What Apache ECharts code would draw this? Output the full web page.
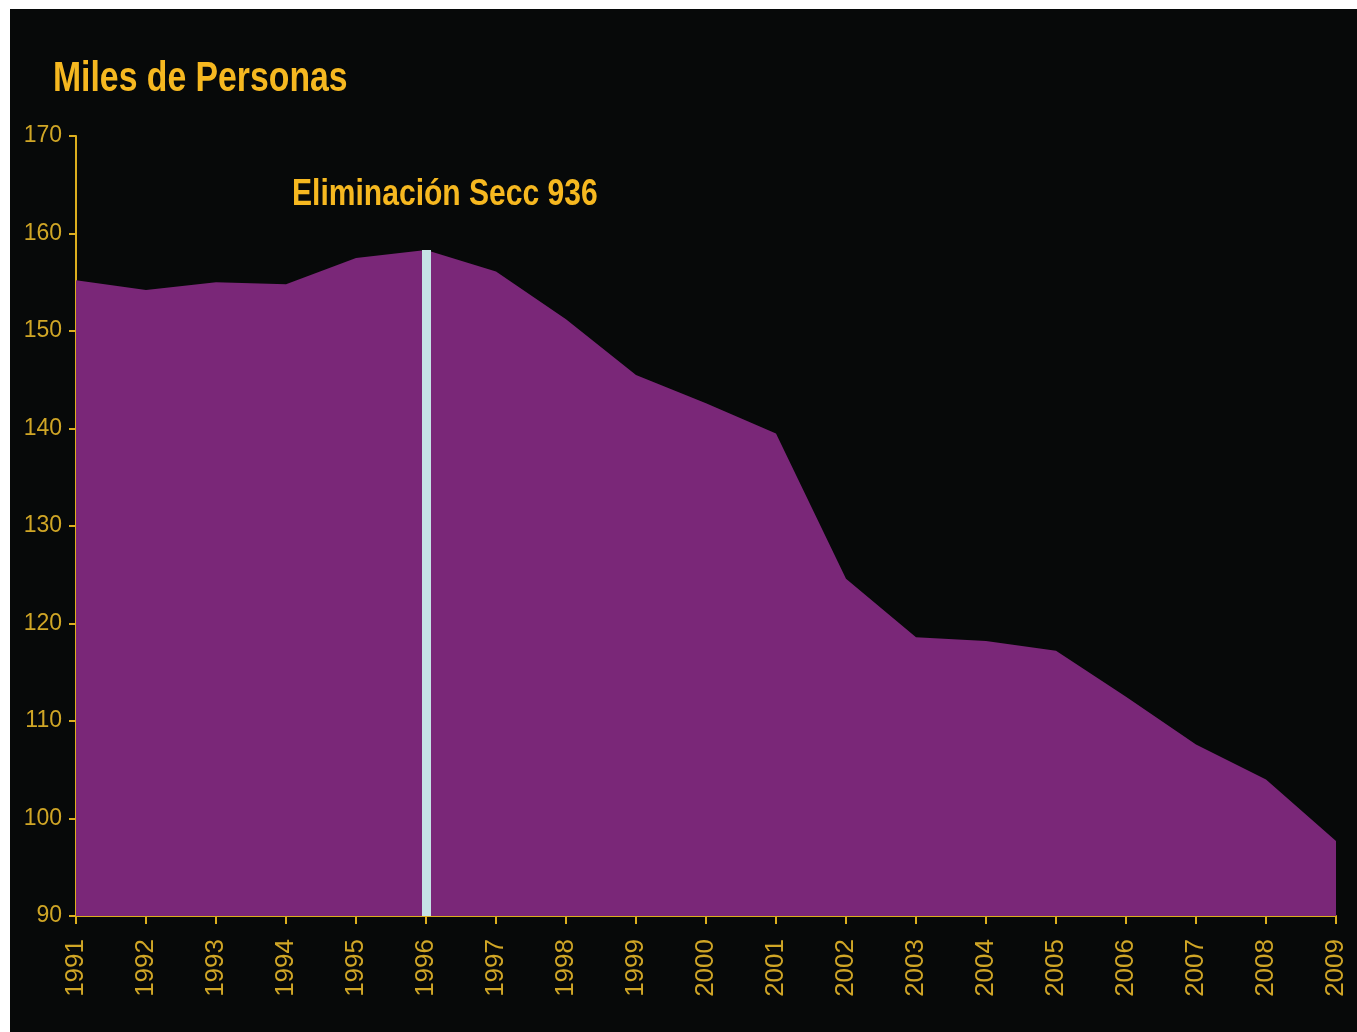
<!DOCTYPE html>
<html>
<head>
<meta charset="utf-8">
<script src="https://cdn.jsdelivr.net/npm/echarts@6/dist/echarts.min.js"></script>
<style>
  html, body { margin: 0; padding: 0; background: #ffffff; width: 1357px; height: 1032px; overflow: hidden; }
  #chart { position: absolute; left: 10px; top: 9px; width: 1347px; height: 1023px; background: #070909; }
</style>
</head>
<body>
<div id="chart"></div>
<script>
// Years on the horizontal axis
const years = ['1991','1992','1993','1994','1995','1996','1997','1998','1999','2000',
               '2001','2002','2003','2004','2005','2006','2007','2008','2009'];
// Thousands of people per year
const personas = [155.2, 154.2, 155.0, 154.8, 157.5, 158.3, 156.1, 151.2, 145.5, 142.6,
                  139.5, 124.6, 118.6, 118.2, 117.2, 112.5, 107.6, 104.0, 97.7];
// Year marked by the vertical bar
const markYear = '1996';
const markValue = personas[years.indexOf(markYear)];
// Value axis range
const yMin = 90, yMax = 170, yStep = 10;

const gold = '#dcae1e';
const labelGold = '#d0a626';
const titleGold = '#f6b820';
const sans = "'Liberation Sans', Arial, sans-serif";

const chart = echarts.init(document.getElementById('chart'), null, { renderer: 'canvas' });
chart.setOption({
  backgroundColor: '#070909',
  animation: false,
  grid: { left: 66, right: 21, top: 127, bottom: 116, containLabel: false },
  xAxis: {
    type: 'category',
    data: years,
    boundaryGap: false,
    axisLine: { lineStyle: { color: gold, width: 2 } },
    axisTick: { show: true, length: 8, lineStyle: { color: gold, width: 2 }, alignWithLabel: true },
    axisLabel: {
      rotate: 90,
      margin: 23,
      color: labelGold,
      fontFamily: sans,
      fontSize: 26,
      interval: 0
    },
    splitLine: { show: false }
  },
  yAxis: {
    type: 'value',
    min: yMin,
    max: yMax,
    interval: yStep,
    axisLine: { show: true, lineStyle: { color: gold, width: 2 } },
    axisTick: { show: true, length: 7, lineStyle: { color: gold, width: 2 } },
    axisLabel: {
      margin: 14,
      color: labelGold,
      fontFamily: sans,
      fontSize: 23
    },
    splitLine: { show: false }
  },
  series: [{
    type: 'line',
    data: personas,
    showSymbol: false,
    lineStyle: { width: 0 },
    areaStyle: { color: '#7a2778', opacity: 1, origin: 'start' },
    z: 2,
    markLine: {
      silent: true,
      symbol: ['none', 'none'],
      label: { show: false },
      lineStyle: { color: '#c5e2e6', width: 9, type: 'solid' },
      data: [[
        { coord: [markYear, yMin] },
        { coord: [markYear, markValue] }
      ]]
    }
  }],
  graphic: [{
    // axis title, condensed horizontally
    type: 'text',
    x: 43,
    y: 70,
    scaleX: 0.785,
    style: {
      text: 'Miles de Personas',
      fill: titleGold,
      font: "bold 43px " + sans,
      verticalAlign: 'middle'
    }
  }, {
    // event annotation above the marker bar
    type: 'text',
    x: 282,
    y: 186,
    scaleX: 0.835,
    style: {
      text: 'Eliminación Secc 936',
      fill: titleGold,
      font: "bold 36px " + sans,
      verticalAlign: 'middle'
    }
  }]
});
</script>
</body>
</html>
